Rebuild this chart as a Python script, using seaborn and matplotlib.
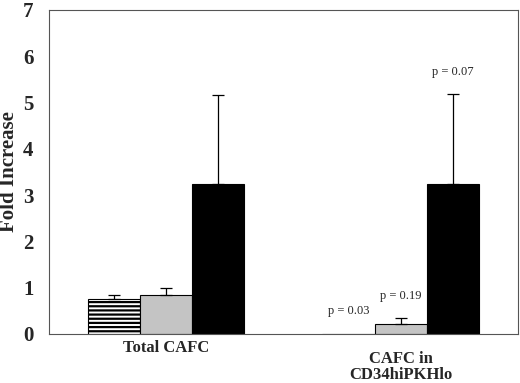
import matplotlib
matplotlib.use("Agg")
import matplotlib.pyplot as plt
import matplotlib.transforms as mtransforms
import seaborn as sns
import pandas as pd
import numpy as np

categories = ["Total CAFC", "CAFC in\nCD34hiPKHlo"]
series = ["A", "B", "C"]
values_a = [0.76, 0.01]
values_b = [0.84, 0.22]
values_c = [3.24, 3.24]
err_a = [0.08, 0.0]
err_b = [0.15, 0.12]
err_c = [1.93, 1.94]
p_labels = [None, None, None, "p = 0.03", "p = 0.19", "p = 0.07"]
p_heights = [None, None, None, 0.36, 0.68, 5.52]

sns.set_style("white")
plt.rcParams['font.family'] = ['Liberation Serif', 'DejaVu Serif']
plt.rcParams['hatch.linewidth'] = 1.6

df = pd.DataFrame({
    "cat": categories * 3,
    "series": [s for s in series for _ in categories],
    "val": values_a + values_b + values_c,
})

fig = plt.figure(figsize=(5.2, 3.83), dpi=100)
ax = fig.add_axes([0.094, 0.128, 0.902, 0.846])
palette = {"A": "white", "B": "#c4c4c4", "C": "black"}
sns.barplot(data=df, x="cat", y="val", hue="series", order=categories,
            hue_order=series, palette=palette, width=0.667, errorbar=None,
            edgecolor="black", linewidth=0.8, legend=False, ax=ax)

bars = ax.patches[:6]
errs = err_a + err_b + err_c
vals = values_a + values_b + values_c
for i, p in enumerate(bars):
    if i < 2:
        p.set_hatch("----")
    x = p.get_x() + p.get_width() / 2
    if errs[i] > 0:
        ax.errorbar(x, vals[i], yerr=[[0], [errs[i]]], fmt="none",
                    ecolor="black", elinewidth=0.9, capsize=4, capthick=0.9)

order = []
for ci in range(2):
    for si in range(3):
        order.append(si * 2 + ci)
for k, idx in enumerate(order):
    if p_labels[k]:
        p = bars[idx]
        ax.text(p.get_x() + p.get_width() / 2, p_heights[k], p_labels[k],
                ha="center", va="bottom", fontsize=9)

ax.set_xlim(-0.5, 1.5)
ax.set_ylim(0, 7)
ax.set_yticks(range(0, 8))
ax.set_yticklabels([str(i) for i in range(8)], fontsize=15, fontweight="bold")
ax.set_xticks([0, 1])
ax.set_xticklabels(["", ""])
trans = mtransforms.blended_transform_factory(ax.transData, fig.transFigure)
ax.text(0, 1 - 348 / 383, categories[0], transform=trans, ha="center",
        va="center", fontsize=12, fontweight="bold")
ax.text(1, 1 - 367 / 383, categories[1], transform=trans, ha="center",
        va="center", fontsize=12, fontweight="bold", linespacing=1.05)
ax.set_xlabel("")
ax.set_ylabel("Fold Increase", fontsize=15, fontweight="bold")
ax.yaxis.set_label_coords(-0.064, 0.5)
ax.tick_params(axis="both", length=0, pad=11)
ax.set_xticks([0.5], minor=True)
ax.tick_params(axis="x", which="minor", length=3, color="#888888", width=0.6)
for s in ax.spines.values():
    s.set_color("#555555")
    s.set_linewidth(0.8)

fig.savefig("out.png", dpi=100)
